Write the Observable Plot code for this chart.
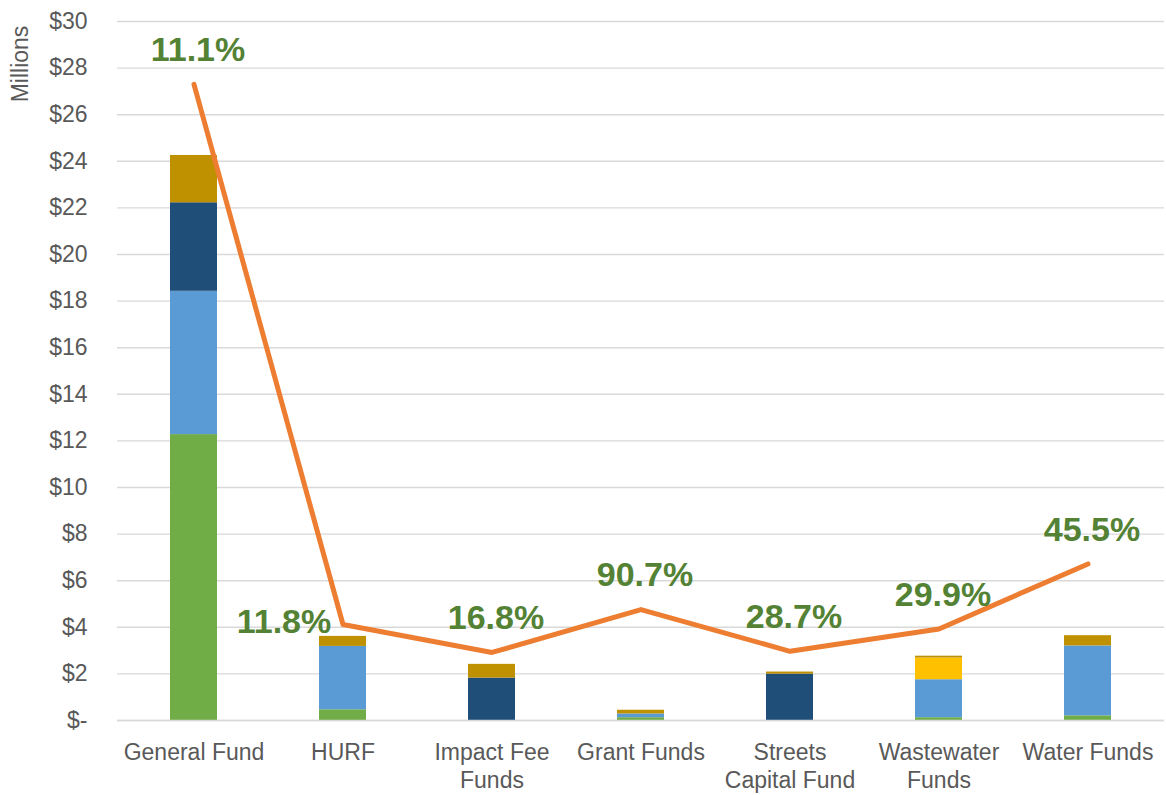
<!DOCTYPE html>
<html>
<head>
<meta charset="utf-8">
<script src="https://cdn.jsdelivr.net/npm/d3@7"></script>
<script src="https://cdn.jsdelivr.net/npm/@observablehq/plot@0.6"></script>
<style>
  html, body { margin: 0; padding: 0; background: #ffffff; }
  #chart { width: 1166px; height: 795px; }
</style>
</head>
<body>
<div id="chart"></div>
<script>
// ---- Data (values in $ millions) ----
const categories = ["General Fund", "HURF", "Impact Fee Funds", "Grant Funds", "Streets Capital Fund", "Wastewater Funds", "Water Funds"];
const categoryLabels = ["General Fund", "HURF", "Impact Fee\nFunds", "Grant Funds", "Streets\nCapital Fund", "Wastewater\nFunds", "Water Funds"];
const seriesNames = ["Series A", "Series B", "Series C", "Series D", "Series E"];
const seriesA = [12.27, 0.46, 0.00, 0.12, 0.00, 0.12, 0.20];
const seriesB = [6.15, 2.72, 0.00, 0.16, 0.00, 1.63, 3.00];
const seriesC = [3.80, 0.00, 1.82, 0.00, 1.99, 0.00, 0.00];
const seriesD = [0.00, 0.00, 0.00, 0.00, 0.00, 0.93, 0.00];
const seriesE = [2.03, 0.43, 0.59, 0.16, 0.09, 0.08, 0.44];
const lineValues = [27.3, 4.12, 2.92, 4.76, 2.97, 3.93, 6.72];
const lineLabels = ["11.1%", "11.8%", "16.8%", "90.7%", "28.7%", "29.9%", "45.5%"];
const yTicks = [0, 2, 4, 6, 8, 10, 12, 14, 16, 18, 20, 22, 24, 26, 28, 30];

const seriesColors = ["#70AD47", "#5B9BD5", "#1F4E79", "#FFC000", "#BF9000"];

// ---- Build tables ----
const seriesValues = [seriesA, seriesB, seriesC, seriesD, seriesE];
const rows = [];
seriesNames.forEach((s, si) => {
  categories.forEach((c, ci) => {
    rows.push({category: c, series: s, value: seriesValues[si][ci]});
  });
});
const linePts = categories.map((c, i) => ({category: c, value: lineValues[i], label: lineLabels[i]}));

const fontFam = "'Liberation Sans', Arial, Helvetica, sans-serif";

const chart = Plot.plot({
  width: 1166,
  height: 795,
  marginLeft: 117,
  marginRight: 2,
  marginTop: 21,
  marginBottom: 75,
  style: {fontFamily: fontFam, fontSize: "23px", color: "#595959", background: "#ffffff", overflow: "visible"},
  x: {domain: categories, paddingInner: 0.686, paddingOuter: 0.343, label: null},
  y: {domain: [0, 30], label: null},
  color: {domain: seriesNames, range: seriesColors},
  marks: [
    Plot.gridY(yTicks, {stroke: "#d9d9d9", strokeOpacity: 1, strokeWidth: 1.4}),
    Plot.axisY(yTicks, {
      tickSize: 0, tickPadding: 30, fontSize: 23, fill: "#595959", label: null,
      tickFormat: d => d === 0 ? "$-" : "$" + d
    }),
    Plot.axisX({
      tickSize: 0, tickPadding: 20, fontSize: 23, fill: "#595959", label: null, lineHeight: 1.22,
      tickFormat: d => categoryLabels[categories.indexOf(d)]
    }),
    Plot.barY(rows, {x: "category", y: "value", fill: "series", order: seriesNames}),
    Plot.ruleY([0], {stroke: "#d9d9d9", strokeWidth: 1.4}),
    Plot.line(linePts, {x: "category", y: "value", stroke: "#ED7D31", strokeWidth: 5, strokeLinejoin: "round", strokeLinecap: "round"}),
    Plot.text(linePts.filter(d => d.category !== "HURF"), {
      x: "category", y: "value", text: "label", dy: -34, dx: 4,
      fill: "#548235", fontSize: 34, fontWeight: "bold"
    }),
    Plot.text(linePts.filter(d => d.category === "HURF"), {
      x: "category", y: "value", text: "label", dx: -59, dy: -2,
      fill: "#548235", fontSize: 34, fontWeight: "bold"
    })
  ]
});

// Axis title "Millions"
d3.select(chart).append("text")
  .attr("transform", "translate(28,64) rotate(-90)")
  .attr("text-anchor", "middle")
  .attr("font-family", fontFam)
  .attr("font-size", 23)
  .attr("fill", "#595959")
  .text("Millions");

document.getElementById("chart").appendChild(chart);
</script>
</body>
</html>
